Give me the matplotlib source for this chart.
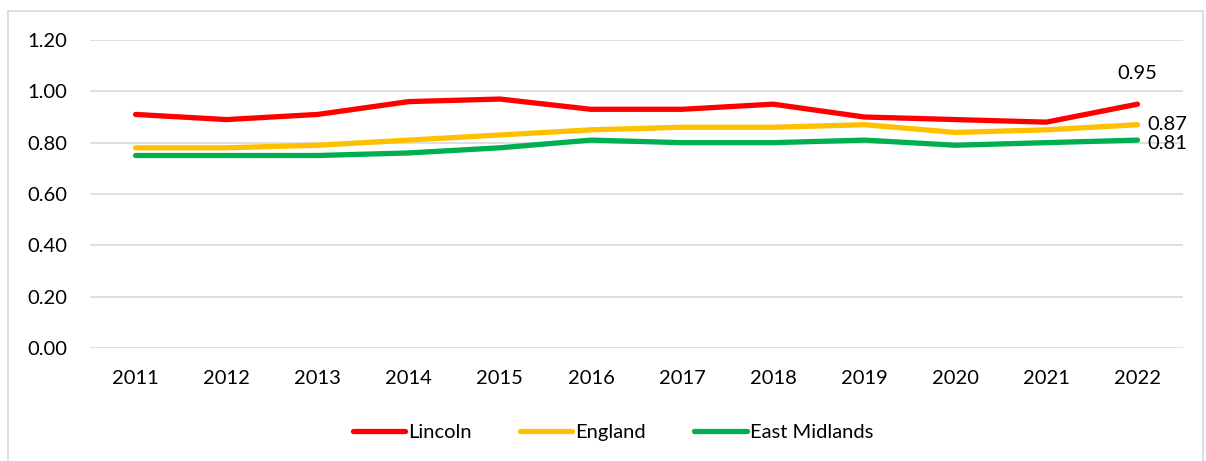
import matplotlib
matplotlib.use('Agg')
import matplotlib.pyplot as plt
from matplotlib.patches import Rectangle

plt.rcParams['font.family'] = ['Lato', 'DejaVu Sans']

years = ['2011', '2012', '2013', '2014', '2015', '2016',
         '2017', '2018', '2019', '2020', '2021', '2022']
lincoln = [0.91, 0.89, 0.91, 0.96, 0.97, 0.93, 0.93, 0.95, 0.90, 0.89, 0.88, 0.95]
england = [0.78, 0.78, 0.79, 0.81, 0.83, 0.85, 0.86, 0.86, 0.87, 0.84, 0.85, 0.87]
east_midlands = [0.75, 0.75, 0.75, 0.76, 0.78, 0.81, 0.80, 0.80, 0.81, 0.79, 0.80, 0.81]

W, H = 1206, 461
fig = plt.figure(figsize=(W / 100, H / 100), dpi=100)
ax = fig.add_axes([90 / W, 1 - 348 / H, (1183 - 90) / W, (348 - 40) / H])

# outer chart border
fig.patches.append(Rectangle((8 / W, -0.01), (1203 - 8) / W, 1 - 11 / H + 0.01,
                             transform=fig.transFigure, fill=False,
                             edgecolor='#d9d9d9', linewidth=1.2))

x = list(range(len(years)))
lw = 3.8
ax.plot(x, lincoln, color='#FF0000', lw=lw, solid_capstyle='round', label='Lincoln', zorder=3)
ax.plot(x, england, color='#FFC000', lw=lw, solid_capstyle='round', label='England', zorder=3)
ax.plot(x, east_midlands, color='#00B050', lw=lw, solid_capstyle='round', label='East Midlands', zorder=3)

fs = 14.5
ax.set_xlim(-0.5, len(years) - 0.5)
ax.set_ylim(0, 1.2)
ax.set_yticks([0, 0.2, 0.4, 0.6, 0.8, 1.0, 1.2])
ax.set_yticklabels([f'{v:.2f}' for v in [0, 0.2, 0.4, 0.6, 0.8, 1.0, 1.2]])
ax.set_xticks(x)
ax.set_xticklabels(years)
ax.tick_params(length=0, labelsize=fs, colors='#000000')
ax.tick_params(axis='y', pad=16.5)
ax.tick_params(axis='x', pad=16)
ax.grid(axis='y', color='#d9d9d9', lw=1.2)
ax.set_axisbelow(True)
for s in ax.spines.values():
    s.set_visible(False)

# end labels
last = len(years) - 1
ax.annotate(f'{lincoln[-1]:.2f}', (last, lincoln[-1]), xytext=(0, 22),
            textcoords='offset pixels', ha='center', va='bottom', fontsize=fs)
ax.annotate(f'{england[-1]:.2f}', (last, england[-1]), xytext=(10, 0),
            textcoords='offset pixels', ha='left', va='center', fontsize=fs)
ax.annotate(f'{east_midlands[-1]:.2f}', (last, east_midlands[-1]), xytext=(10, -3),
            textcoords='offset pixels', ha='left', va='center', fontsize=fs)

fig.legend(loc='center', bbox_to_anchor=(613 / W, 1 - 432 / H), ncol=3,
           frameon=False, fontsize=fs, handlelength=2.6, handletextpad=0.15,
           columnspacing=2.4)

fig.savefig('out.png', dpi=100)
